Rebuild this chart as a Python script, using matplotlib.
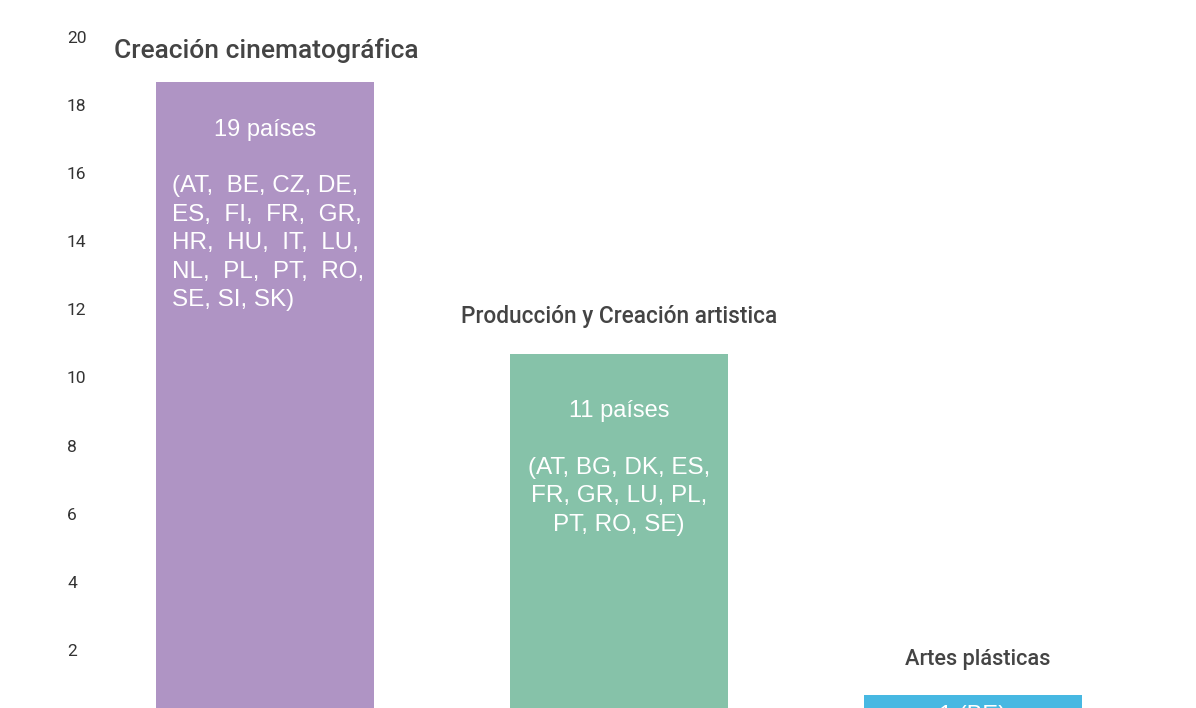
import matplotlib.pyplot as plt
import matplotlib.transforms as mtransforms

# Data
categories = ["Creación cinematográfica", "Producción y Creación artistica", "Artes plásticas"]
counts = [19, 11, 1]
headers = ["19 países", "11 países", "1 (BE)"]
countries = [
    "(AT,  BE, CZ, DE,\nES,  FI,  FR,  GR,\nHR,  HU,  IT,  LU,\nNL,  PL,  PT,  RO,\nSE, SI, SK)",
    "(AT, BG, DK, ES,\nFR, GR, LU, PL,\nPT, RO, SE)",
    "",
]
colors = ["#af94c4", "#86c2a9", "#47b8e2"]
yticks = [2, 4, 6, 8, 10, 12, 14, 16, 18, 20]

W, H, DPI = 11.96, 7.08, 100
fig = plt.figure(figsize=(W, H), dpi=DPI)
# axes reaches below the figure bottom (the original is cropped)
ax = fig.add_axes([100 / 1196, -21 / 708, 1096 / 1196, 681 / 708])

x = list(range(len(counts)))
width = 0.616
ax.bar(x, counts, width=width, color=colors)
ax.set_xlim(-0.466, 2.63)
ax.set_ylim(0, 20)

for s in ax.spines.values():
    s.set_visible(False)
ax.set_xticks([])
ax.set_yticks(yticks)
ax.tick_params(axis="y", length=0, pad=0, labelsize=12.5, labelcolor="#333333")
shift = mtransforms.ScaledTranslation(-33 / DPI, 11 / DPI, fig.dpi_scale_trans)
for lab in ax.get_yticklabels():
    lab.set_horizontalalignment("left")
    lab.set_fontfamily("Roboto")
    lab.set_transform(lab.get_transform() + shift)

# category titles above bars
title_sizes = [19, 16.3, 15.7]
title_off = [(1, 32), (0, 38), (5, 35)]
for i, (cat, v) in enumerate(zip(categories, counts)):
    dx, dy = title_off[i]
    ax.annotate(cat, (x[i], v), xytext=(dx * 72 / DPI, dy * 72 / DPI),
                textcoords="offset points", ha="center", va="center",
                fontsize=title_sizes[i], family="Roboto", fontweight="medium",
                color="#444444")

# labels inside bars
header_drop = [1.40, 1.66, 0.62]
for i, v in enumerate(counts):
    ax.text(x[i], v - header_drop[i], headers[i], ha="center", va="center",
            fontsize=17, color="white", family="Liberation Sans")
    if countries[i]:
        yy = v - header_drop[i] - 1.34
        if i == 0:
            ax.text(x[i] - 0.263, yy, countries[i], ha="left", va="top",
                    fontsize=17.5, color="white", family="Liberation Sans",
                    linespacing=1.38)
        else:
            ax.text(x[i], yy, countries[i], ha="center", va="top",
                    fontsize=17.5, color="white", family="Liberation Sans",
                    linespacing=1.38, multialignment="center")

fig.savefig("out.png", dpi=DPI)
